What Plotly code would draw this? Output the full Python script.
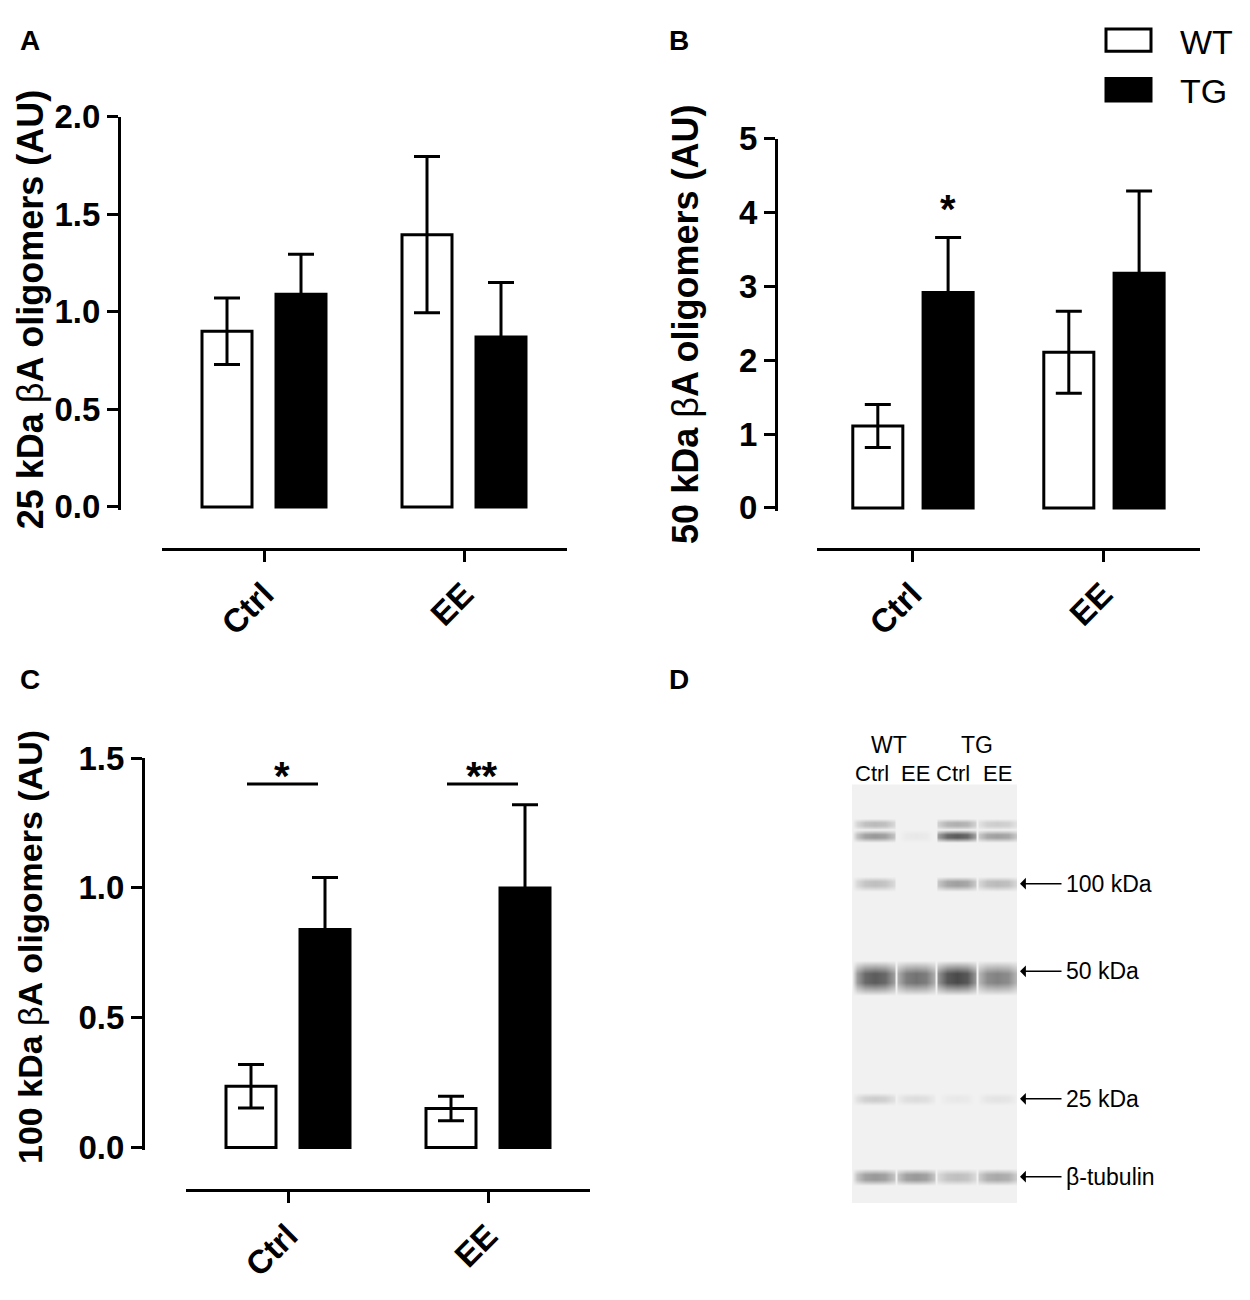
import plotly.graph_objects as go

groups = ["Ctrl", "EE"]

# panel A - 25 kDa oligomers
a_wt = [0.90, 1.395]
a_wt_sem = [0.17, 0.40]
a_tg = [1.09, 0.87]
a_tg_sem = [0.205, 0.28]

# panel B - 50 kDa oligomers
b_wt = [1.11, 2.11]
b_wt_sem = [0.29, 0.555]
b_tg = [2.92, 3.18]
b_tg_sem = [0.745, 1.115]
b_stars = ["*", ""]
b_star_y = 4.1

# panel C - 100 kDa oligomers
c_wt = [0.236, 0.15]
c_wt_sem = [0.084, 0.047]
c_tg = [0.84, 1.00]
c_tg_sem = [0.20, 0.32]
c_stars = ["*", "**"]
c_sig_y = 1.40

# panel D - blot, darkness of each band per lane
lanes = ["Ctrl", "EE", "Ctrl", "EE"]
lane_groups = ["WT", "TG"]
band_labels = ["", "", "100 kDa", "50 kDa", "25 kDa", "β-tubulin"]
band_pos = [41, 53, 102, 199, 323, 403]
band_top1 = [0.30, 0.06, 0.35, 0.22]
band_top2 = [0.45, 0.10, 0.72, 0.42]
band_100 = [0.28, 0.05, 0.42, 0.30]
band_50 = [0.72, 0.62, 0.80, 0.55]
band_25 = [0.22, 0.15, 0.10, 0.12]
band_tub = [0.45, 0.45, 0.28, 0.38]

FONT = "Liberation Sans"
# page body has an 8px margin, so the figure starts at (8, 8)
OFF = 8
W, H = 1250 - 2 * OFF, 1300 - 2 * OFF


def px(x):
    return (x - OFF) / W


def py(y):
    return 1 - (y - OFF) / H


fig = go.Figure()


def add_bars(n, wt, wt_sem, tg, tg_sem, off_wt, off_tg, bw):
    xs = list(range(len(groups)))
    fig.add_trace(go.Bar(x=xs, y=wt, width=bw, offset=off_wt,
                         marker=dict(color="white", line=dict(color="black", width=3)),
                         error_y=dict(type="data", array=wt_sem, color="black", thickness=3, width=13),
                         xaxis="x" + n, yaxis="y" + n, name="WT", showlegend=False))
    fig.add_trace(go.Bar(x=xs, y=tg, width=bw, offset=off_tg,
                         marker=dict(color="black", line=dict(color="black", width=3)),
                         error_y=dict(type="data", array=tg_sem, color="black", thickness=3, width=13),
                         xaxis="x" + n, yaxis="y" + n, name="TG", showlegend=False))


add_bars("", a_wt, a_wt_sem, a_tg, a_tg_sem, -0.31, 0.06, 0.25)
add_bars("2", b_wt, b_wt_sem, b_tg, b_tg_sem, -0.31, 0.058, 0.262)
add_bars("3", c_wt, c_wt_sem, c_tg, c_tg_sem, -0.31, 0.06, 0.25)

# significance lines in C
sx, sy = [], []
for i in range(len(groups)):
    sx += [i - 0.205, i + 0.15, None]
    sy += [c_sig_y, c_sig_y, None]
fig.add_trace(go.Scatter(x=sx, y=sy, mode="lines", line=dict(color="black", width=3),
                         xaxis="x3", yaxis="y3", showlegend=False, hoverinfo="skip"))

# blot as a smoothed heatmap
bands = [band_top1, band_top2, band_100, band_50, band_25, band_tub]
band_half = [6, 7, 8, 18, 7, 9]
bg = 0.06
cols = [(-0.57, None, 0)]
for i in range(len(lanes)):
    for dx, f in [(-0.45, 0.6), (-0.25, 0.92), (0, 1), (0.25, 0.92), (0.45, 0.6)]:
        cols.append((i + dx, i, f))
    if i < len(lanes) - 1:
        cols.append((i + 0.5, None, 0))
cols.append((3.48, None, 0))
rows = [(0, None)]
for k, p in enumerate(band_pos):
    h = band_half[k]
    rows += [(p - h, None), (p - 0.25 * h, k), (p + 0.25 * h, k), (p + h, None)]
rows.append((430, None))
z = []
for y, k in rows:
    line = []
    for x, lane, f in cols:
        if k is None or lane is None:
            line.append(bg)
        else:
            line.append(max(bg, bands[k][lane] * f))
    z.append(line)
fig.add_trace(go.Heatmap(x=[c[0] for c in cols], y=[r[0] for r in rows], z=z,
                         zsmooth="best", zmin=0, zmax=1, showscale=False,
                         colorscale=[[0, "#ffffff"], [1, "#1c1c1c"]],
                         xaxis="x4", yaxis="y4", hoverinfo="skip"))


def xax(d0, d1, c0, c1, ypos):
    # c0, c1: pixel positions of group 0 and group 1
    unit = c1 - c0
    return dict(domain=[px(d0), px(d1)], range=[(d0 - c0) / unit, (d1 - c0) / unit],
                anchor="free", position=py(ypos), showline=True, linewidth=3, linecolor="black",
                ticks="outside", ticklen=11, tickwidth=3, tickcolor="black",
                tickvals=list(range(len(groups))), ticktext=groups, tickangle=-45,
                tickfont=dict(family=FONT, size=33, color="black", weight="bold"),
                showgrid=False, zeroline=False)


def yax(ybot, ytop, hi, dtick, fmt, xpos):
    unit = (ybot - ytop) / hi
    pad = 3
    return dict(domain=[py(ybot + pad), py(ytop)], range=[-pad / unit, hi],
                anchor="free", position=px(xpos), showline=True, linewidth=3, linecolor="black",
                ticks="outside", ticklen=11, tickwidth=3, tickcolor="black",
                dtick=dtick, tick0=0, tickformat=fmt,
                tickfont=dict(family=FONT, size=33, color="black", weight="bold"),
                showgrid=False, zeroline=False)


fig.update_layout(
    width=W, height=H, margin=dict(l=0, r=0, t=0, b=0),
    paper_bgcolor="white", plot_bgcolor="rgba(0,0,0,0)",
    barmode="overlay", showlegend=False,
    xaxis=xax(162, 567, 264, 464, 545),
    yaxis=yax(502, 101, 2.0, 0.5, ".1f", 119),
    xaxis2=xax(817, 1200, 912, 1103, 545),
    yaxis2=yax(503, 124, 5, 1, "d", 776),
    xaxis3=xax(186, 590, 288, 488, 1204),
    yaxis3=yax(1160, 760, 1.5, 0.5, ".1f", 143),
    xaxis4=dict(domain=[px(852), px(1017)], range=[-0.57, 3.48], anchor="y4", visible=False),
    yaxis4=dict(domain=[py(1217), py(787)], range=[430, 0], anchor="x4", visible=False),
)

ann = []


def text(t, x, y, size, xanchor="center", **kw):
    d = dict(text=t, x=px(x), y=py(y), xref="paper", yref="paper", showarrow=False,
             xanchor=xanchor, yanchor="middle", font=dict(family=FONT, size=size, color="black"))
    d.update(kw)
    ann.append(d)


for letter, x, y in [("A", 30, 23), ("B", 679, 23), ("C", 30, 679), ("D", 679, 679)]:
    text("<b>%s</b>" % letter, x, y, 28)

for label, x, y, s in [("25", 30, 299, 36), ("50", 686, 314, 36), ("100", 30, 954, 34)]:
    text("<b>%s kDa </b>β<b>A oligomers (AU)</b>" % label, x, y, s, textangle=-90)

for i, s in enumerate(b_stars):
    if s:
        ann.append(dict(text="<b>%s</b>" % s, x=i + 0.058 + 0.131, y=b_star_y, xref="x2", yref="y2",
                        xanchor="center", yanchor="middle", showarrow=False, yshift=-4,
                        font=dict(family=FONT, size=40, color="black")))
for i, s in enumerate(c_stars):
    ann.append(dict(text="<b>%s</b>" % s, x=i - 0.03, y=c_sig_y, xref="x3", yref="y3", xanchor="center",
                    yanchor="bottom", showarrow=False, yshift=-16,
                    font=dict(family=FONT, size=40, color="black")))

# legend
shapes = [
    dict(type="rect", xref="paper", yref="paper", x0=px(1106), x1=px(1151), y0=py(34), y1=py(11),
         line=dict(color="black", width=3), fillcolor="white"),
    dict(type="rect", xref="paper", yref="paper", x0=px(1106), x1=px(1151), y0=py(85), y1=py(62),
         line=dict(color="black", width=3), fillcolor="black"),
]
text("WT", 1178, 24, 34, xanchor="left")
text("TG", 1178, 75, 34, xanchor="left")

# blot labels
for j, g in enumerate(lane_groups):
    ann.append(dict(text=g, x=2 * j + 0.5 - 0.15 * (1 - j), y=py(747), xref="x4", yref="paper",
                    showarrow=False, xanchor="center", yanchor="middle",
                    font=dict(family=FONT, size=23, color="black")))
for i, l in enumerate(lanes):
    ann.append(dict(text=l, x=i - 0.08 if l == "Ctrl" else i, y=py(776), xref="x4", yref="paper",
                    showarrow=False, xanchor="center", yanchor="middle",
                    font=dict(family=FONT, size=22, color="black")))
for k, lab in enumerate(band_labels):
    if not lab:
        continue
    yy = band_pos[k] if k != 3 else band_pos[k] - 7
    ann.append(dict(text="", x=px(1020), y=yy, xref="paper", yref="y4", ax=43, ay=0,
                    showarrow=True, arrowhead=1, arrowsize=1.3, arrowwidth=1.5, arrowcolor="black"))
    ann.append(dict(text=lab, x=px(1064), y=yy, xref="paper", yref="y4", xanchor="left",
                    yanchor="middle", showarrow=False, font=dict(family=FONT, size=23, color="black")))

fig.update_layout(annotations=ann, shapes=shapes)

fig.write_html("out.html")
